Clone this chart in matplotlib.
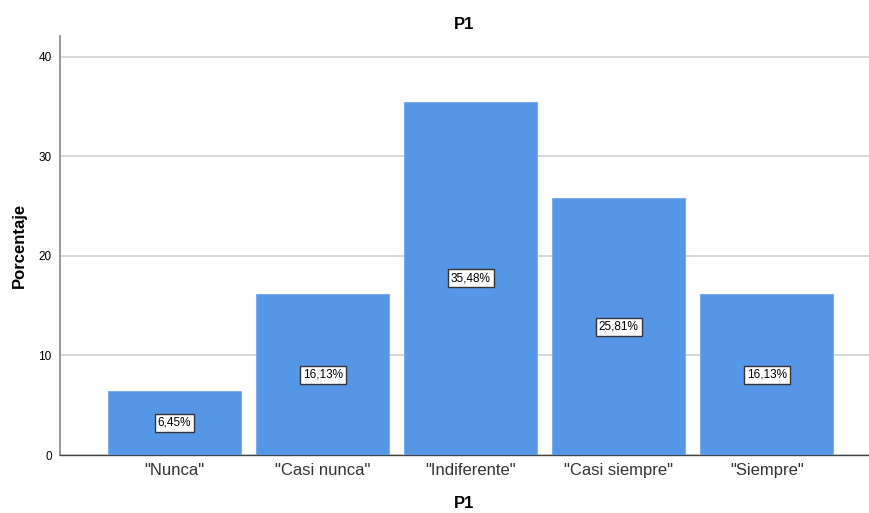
import matplotlib
matplotlib.use("Agg")
import matplotlib.pyplot as plt

categories = ['"Nunca"', '"Casi nunca"', '"Indiferente"', '"Casi siempre"', '"Siempre"']
values = [6.45, 16.13, 35.48, 25.81, 16.13]
value_labels = ["6,45%", "16,13%", "35,48%", "25,81%", "16,13%"]
yticks = [0, 10, 20, 30, 40]

plt.rcParams['font.family'] = ['Liberation Sans', 'DejaVu Sans']
fig = plt.figure(figsize=(8.69, 5.13), dpi=100)
ax = fig.add_axes([0.069, 0.113, 0.931, 0.817])

x = list(range(len(categories)))
ax.bar(x, values, width=0.9, color="#5596E6", edgecolor="#7AAEEE", linewidth=0.8, zorder=3)
for xi, v, lab in zip(x, values, value_labels):
    ax.text(xi, v / 2, lab, ha="center", va="center", fontsize=8.5, zorder=4,
            bbox=dict(boxstyle="square,pad=0.25", facecolor="white", edgecolor="#333333", linewidth=1.0))

ax.set_xlim(-0.774, 4.69)
ax.set_ylim(0, 42.1)
ax.set_yticks(yticks)
ax.set_xticks(x)
ax.set_xticklabels(categories, fontsize=12, color="#333333")
ax.tick_params(axis="y", labelsize=8.5, length=0, pad=6)
ax.tick_params(axis="x", length=0, pad=6)
ax.yaxis.grid(True, color="#D4D4D4", linewidth=1.3, zorder=0)
ax.set_axisbelow(True)
for s in ["top", "right"]:
    ax.spines[s].set_visible(False)
ax.spines["left"].set_color("#888888")
ax.spines["left"].set_linewidth(1.2)
ax.spines["bottom"].set_color("#444444")
ax.spines["bottom"].set_linewidth(1.0)

ax.set_title("P1", fontsize=12, fontweight="bold", pad=5)
ax.set_xlabel("P1", fontsize=12, fontweight="bold", labelpad=13)
ax.set_ylabel("Porcentaje", fontsize=12, fontweight="bold", labelpad=8)

fig.savefig("out.png", dpi=100)
